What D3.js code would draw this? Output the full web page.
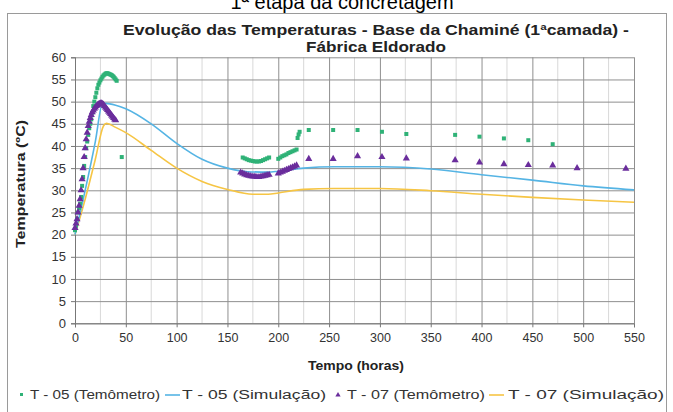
<!DOCTYPE html>
<html><head><meta charset="utf-8">
<script src="https://cdn.jsdelivr.net/npm/d3@7"></script>
<style>
html,body{margin:0;padding:0;background:#fff;}
svg text{font-family:"Liberation Sans",Arial,sans-serif;}
</style></head>
<body><svg id="c" width="673" height="412"></svg>
<script>
// T-05 (Temômetro) measured hours / temperatures
const t05Hours = [0,1,2,3,4,5,6,7,8,9,10,11,12,13,14,15,16,17,18,19,20,21,22,23,24,25,26,27,28,29,30,31,32,33,34,35,36,37,38,39,40,41,46,
  165,167,169,171,173,175,177,179,181,183,185,187,189,191,
  200,202,204,206,208,210,212,214,216,218,219,220,221,
  230,254,278,302,326,374,398,422,446,470];
const t05Temps = [21,22,23.5,25,26,27,28.5,31,33,35.5,37.5,39.5,41,42.5,44,45,46,47.5,49,50,51,52,53,53.8,54.3,54.8,55.2,55.6,55.9,56.1,56.3,56.4,56.4,56.3,56.2,56.1,56,55.8,55.6,55.3,55,54.7,37.5,
  37.4,37.2,37,36.8,36.7,36.6,36.5,36.5,36.5,36.6,36.8,37,37.2,37.4,
  37.1,37.4,37.7,37.9,38.1,38.4,38.6,38.8,39.0,39.2,41.8,42.6,43.2,
  43.6,43.6,43.6,43.2,42.7,42.5,42.1,41.7,41.3,40.4];
// T-07 (Temômetro)
const t07Hours = [0,1,2,3,4,5,6,7,8,9,10,11,12,13,14,15,16,17,18,19,20,21,22,23,24,25,26,27,28,29,30,31,32,33,34,35,36,37,38,39,40,
  163,165,167,169,171,173,175,177,179,181,183,185,187,189,191,
  200,202,204,206,208,210,212,214,216,218,
  230,254,278,302,326,374,398,422,446,470,494,542];
const t07Temps = [21.5,22.5,23.5,25,26.5,28,30,32.5,35,37.5,39.5,41.5,43,44.5,45.5,46.3,47,47.6,48,48.4,48.7,49,49.2,49.4,49.5,49.6,49.6,49.5,49.3,49,48.7,48.4,48.1,47.8,47.5,47.2,46.9,46.6,46.3,46,45.8,
  34.0,33.8,33.6,33.4,33.3,33.2,33.1,33.1,33.0,33.0,33.1,33.2,33.3,33.4,33.5,
  33.8,34.0,34.2,34.4,34.6,34.8,35.0,35.2,35.4,35.6,
  37.1,37.1,37.7,37.5,37.2,36.8,36.3,35.9,35.7,35.6,35.0,34.9];
// T-05 (Simulação)
const s05Hours = [0,10,20,27,30,40,50,75,100,125,150,170,190,200,225,255,300,350,400,450,500,550];
const s05Temps = [20,30,41,49.5,49.6,49.2,48.4,45,40.6,37,35,34.2,34.1,34.3,35,35.3,35.3,34.8,33.5,32.3,31,30.1];
// T-07 (Simulação)
const s07Hours = [0,10,20,28,31,40,50,75,100,125,150,175,190,200,225,255,300,350,400,450,500,550];
const s07Temps = [20,28,37,44.5,45.1,44.2,43,39,35,32,30.2,29.1,29.1,29.4,30.2,30.4,30.4,29.9,29.1,28.4,27.8,27.3];

const xTicks = [0,50,100,150,200,250,300,350,400,450,500,550];
const yTicks = [0,5,10,15,20,25,30,35,40,45,50,55,60];
const legendLabels = ["T - 05 (Temômetro)","T - 05 (Simulação)","T - 07 (Temômetro)","T - 07 (Simulação)"];

const C_G = "#2fb277", C_B = "#55b4e4", C_P = "#6a2d9c", C_Y = "#f6c544";

const svg = d3.select("#c");
// outer frame
svg.append("rect").attr("x",7.5).attr("y",13.5).attr("width",659).attr("height",420)
  .attr("fill","none").attr("stroke","#9a9a9a");

// top (clipped) caption
svg.append("text").attr("x",342).attr("y",9).attr("text-anchor","middle")
  .attr("font-size",20).attr("fill","#000").text("1ª etapa da concretagem");

const x = d3.scaleLinear().domain([0,550]).range([75,634]);
const y = d3.scaleLinear().domain([0,60]).range([323.3,57.3]);

// minor vertical grid
const minor = d3.range(25,550,50);
svg.append("g").selectAll("line").data(minor).join("line")
  .attr("x1",d=>x(d)).attr("x2",d=>x(d)).attr("y1",y(0)).attr("y2",y(60))
  .attr("stroke","#d8d8d8").attr("stroke-width",1);
// major grid
svg.append("g").call(d3.axisBottom(x).tickValues(xTicks).tickSize(-(y(0)-y(60))).tickFormat(""))
  .attr("transform",`translate(0,${y(0)})`)
  .call(g=>g.select(".domain").remove())
  .call(g=>g.selectAll("line").attr("stroke","#8f8f8f"));
svg.append("g").call(d3.axisLeft(y).tickValues(yTicks).tickSize(-(x(550)-x(0))).tickFormat(""))
  .attr("transform",`translate(${x(0)},0)`)
  .call(g=>g.select(".domain").remove())
  .call(g=>g.selectAll("line").attr("stroke","#8f8f8f"));

// axes
const xa = svg.append("g").attr("transform",`translate(0,${y(0)})`)
  .call(d3.axisBottom(x).tickValues(xTicks).tickSize(4).tickPadding(6));
xa.select(".domain").attr("stroke","#777");
xa.selectAll("line").attr("stroke","#777");
xa.selectAll("text").attr("font-size",12.5).attr("fill","#333").attr("font-family","Liberation Sans, Arial, sans-serif");
const ya = svg.append("g").attr("transform",`translate(${x(0)},0)`)
  .call(d3.axisLeft(y).tickValues(yTicks).tickSize(4).tickPadding(5));
ya.select(".domain").attr("stroke","#777");
ya.selectAll("line").attr("stroke","#777");
ya.selectAll("text").attr("font-size",13).attr("fill","#333").attr("font-family","Liberation Sans, Arial, sans-serif");

// lines
const line = d3.line().x(d=>x(d[0])).y(d=>y(d[1])).curve(d3.curveMonotoneX);
svg.append("path").datum(d3.zip(s07Hours,s07Temps)).attr("d",line)
  .attr("fill","none").attr("stroke",C_Y).attr("stroke-width",1.6);
svg.append("path").datum(d3.zip(s05Hours,s05Temps)).attr("d",line)
  .attr("fill","none").attr("stroke",C_B).attr("stroke-width",1.6);

// markers
svg.append("g").selectAll("rect").data(d3.zip(t05Hours,t05Temps)).join("rect")
  .attr("x",d=>x(d[0])-2).attr("y",d=>y(d[1])-2).attr("width",4).attr("height",4)
  .attr("fill",C_G);
const tri = d3.symbol().type(d3.symbolTriangle).size(22);
svg.append("g").selectAll("path").data(d3.zip(t07Hours,t07Temps)).join("path")
  .attr("d",tri).attr("transform",d=>`translate(${x(d[0])},${y(d[1])})`)
  .attr("fill",C_P);

// titles
svg.append("text").attr("x",376).attr("y",35).attr("text-anchor","middle")
  .attr("font-size",15).attr("font-weight","bold").attr("fill","#222")
  .attr("textLength",506).attr("lengthAdjust","spacingAndGlyphs")
  .text("Evolução das Temperaturas - Base da Chaminé (1ªcamada) -");
svg.append("text").attr("x",376).attr("y",52).attr("text-anchor","middle")
  .attr("font-size",15).attr("font-weight","bold").attr("fill","#222")
  .attr("textLength",140).attr("lengthAdjust","spacingAndGlyphs")
  .text("Fábrica Eldorado");
svg.append("text").attr("x",356).attr("y",370).attr("text-anchor","middle")
  .attr("font-size",13).attr("font-weight","bold").attr("fill","#222")
  .attr("textLength",96).attr("lengthAdjust","spacingAndGlyphs").text("Tempo (horas)");
svg.append("text").attr("transform","translate(25,184) rotate(-90)").attr("text-anchor","middle")
  .attr("font-size",13).attr("font-weight","bold").attr("fill","#222")
  .attr("textLength",128).attr("lengthAdjust","spacingAndGlyphs").text("Temperatura (ºC)");

// legend
const lg = svg.append("g").attr("font-size",12.5).attr("fill","#333");
const lx = [20,165,336,489];
lg.append("rect").attr("x",lx[0]).attr("y",393).attr("width",3).attr("height",3).attr("fill",C_G);
lg.append("line").attr("x1",lx[1]).attr("x2",lx[1]+15).attr("y1",395).attr("y2",395).attr("stroke",C_B).attr("stroke-width",1.6);
lg.append("path").attr("d",d3.symbol().type(d3.symbolTriangle).size(12)).attr("transform",`translate(${lx[2]+2},395)`).attr("fill",C_P);
lg.append("line").attr("x1",lx[3]).attr("x2",lx[3]+15).attr("y1",395).attr("y2",395).attr("stroke",C_Y).attr("stroke-width",1.6);
const tx = [30,182,347,508];
const tw = [130,144,138,156];
legendLabels.forEach((t,i)=>{
  lg.append("text").attr("x",tx[i]).attr("y",399).attr("fill","#333")
    .attr("textLength",tw[i]).attr("lengthAdjust","spacingAndGlyphs").text(t);
});
</script></body></html>
